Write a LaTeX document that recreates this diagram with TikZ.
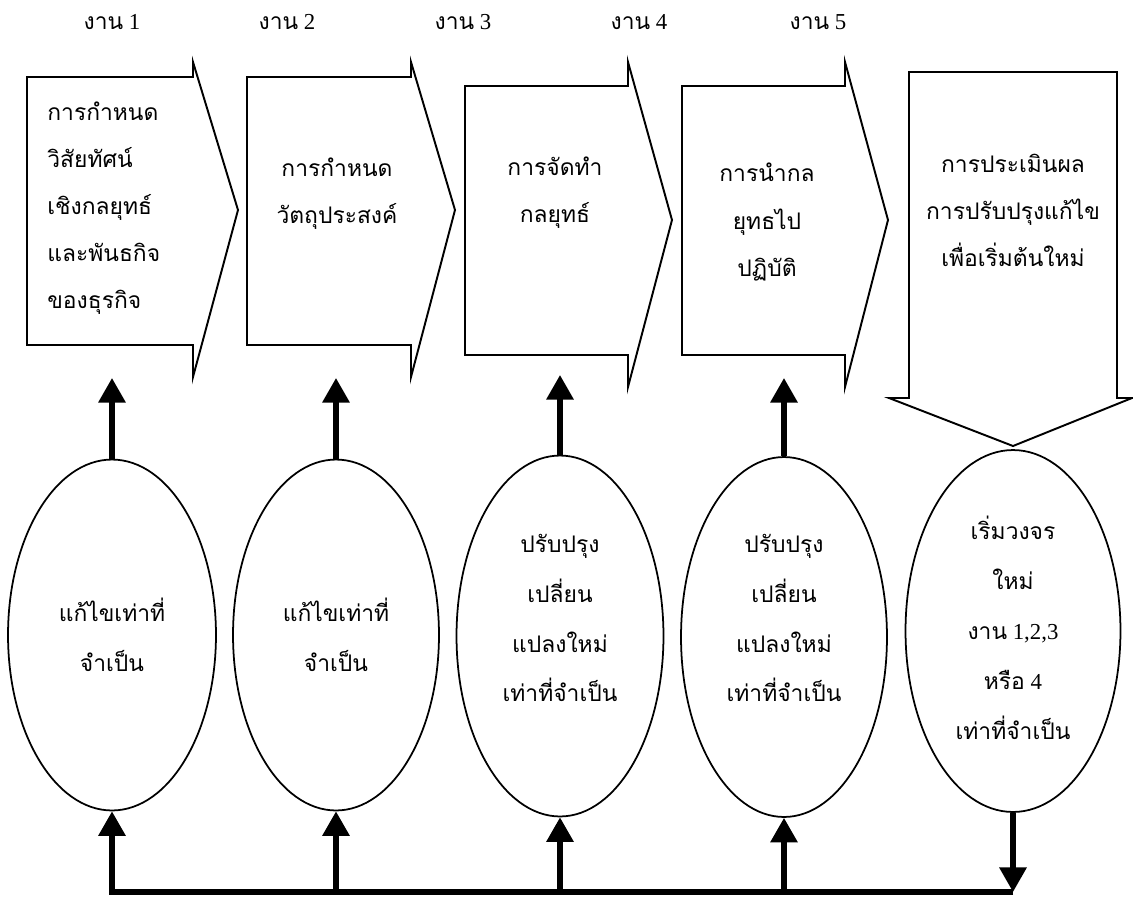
\documentclass[tikz,border=0pt]{standalone}
\usepackage{fontspec}
\setmainfont{Liberation Serif}
\newfontfamily\thaifont[Script=Thai,Scale=1.0]{Loma}
\newcommand\tht[1]{{\thaifont #1}}
\usetikzlibrary{arrows.meta,shapes.geometric}

\tikzset{
  panel/.style={draw, line width=1.1pt, line join=miter},
  oval/.style={draw, ellipse, line width=1pt, inner sep=0pt},
  boxtext/.style={font=\fontsize{13}{26.8}\selectfont, inner sep=0pt},
  ovaltext/.style={font=\fontsize{13}{28.4}\selectfont, inner sep=0pt, align=center},
  steplabel/.style={font=\fontsize{13}{15}\selectfont, inner sep=0pt},
  link/.style={line width=3pt, -{Triangle[width=15pt,length=14pt]}},
  rail/.style={line width=3pt},
}

\begin{document}
\begin{tikzpicture}[x=0.02cm,y=-0.02cm]
\path[use as bounding box] (0,0) rectangle (1133,897);

% stage labels
\node[steplabel] (s1) at (112,22) {\tht{งาน} 1};
\node[steplabel] (s2) at (287,22) {\tht{งาน} 2};
\node[steplabel] (s3) at (463,22) {\tht{งาน} 3};
\node[steplabel] (s4) at (639,22) {\tht{งาน} 4};
\node[steplabel] (s5) at (818,22) {\tht{งาน} 5};

% stage panels (notched arrows)
\draw[panel] (27,77) -- (193,77) -- (193,62) -- (238,210) -- (193,377) -- (193,345) -- (27,345) -- cycle;
\draw[panel] (247,77) -- (411,77) -- (411,62) -- (455,210) -- (411,377) -- (411,345) -- (247,345) -- cycle;
\draw[panel] (465,86) -- (628,86) -- (628,62) -- (672,220) -- (628,387) -- (628,355) -- (465,355) -- cycle;
\draw[panel] (682,86) -- (845,86) -- (845,62) -- (888,220) -- (845,387) -- (845,355) -- (682,355) -- cycle;
\draw[panel] (909,72) -- (1117,72) -- (1117,398) -- (1132,398) -- (1013,446) -- (889,398) -- (909,398) -- cycle;

\node[boxtext, anchor=west, align=left] (b1) at (47,208)
  {\tht{การกำหนด}\\\tht{วิสัยทัศน์}\\\tht{เชิงกลยุทธ์}\\\tht{และพันธกิจ}\\\tht{ของธุรกิจ}};
\node[boxtext, align=center] (b2) at (337,194) {\tht{การกำหนด}\\\tht{วัตถุประสงค์}};
\node[boxtext, align=center] (b3) at (555,193) {\tht{การจัดทำ}\\\tht{กลยุทธ์}};
\node[boxtext, align=center] (b4) at (767,222) {\tht{การนำกล}\\\tht{ยุทธไป}\\\tht{ปฏิบัติ}};
\node[boxtext, align=center] (b5) at (1013,210) {\tht{การประเมินผล}\\\tht{การปรับปรุงแก้ไข}\\\tht{เพื่อเริ่มต้นใหม่}};

% review ovals
\node[oval, minimum width=4.16cm, minimum height=7.02cm] (e1) at (112,635) {};
\node[oval, minimum width=4.12cm, minimum height=7.02cm] (e2) at (336,635) {};
\node[oval, minimum width=4.14cm, minimum height=7.22cm] (e3) at (560,636) {};
\node[oval, minimum width=4.12cm, minimum height=7.2cm] (e4) at (784,637) {};
\node[oval, minimum width=4.3cm, minimum height=7.24cm] (e5) at (1013,631) {};

\node[ovaltext] (t1) at (112,635) {\tht{แก้ไขเท่าที่}\\\tht{จำเป็น}};
\node[ovaltext] (t2) at (336,635) {\tht{แก้ไขเท่าที่}\\\tht{จำเป็น}};
\node[ovaltext] (t3) at (560,618) {\tht{ปรับปรุง}\\\tht{เปลี่ยน}\\\tht{แปลงใหม่}\\\tht{เท่าที่จำเป็น}};
\node[ovaltext] (t4) at (784,618) {\tht{ปรับปรุง}\\\tht{เปลี่ยน}\\\tht{แปลงใหม่}\\\tht{เท่าที่จำเป็น}};
\node[ovaltext] (t5) at (1013,628) {\tht{เริ่มวงจร}\\\tht{ใหม่}\\\tht{งาน} 1,2,3\\\tht{หรือ} 4\\\tht{เท่าที่จำเป็น}};

% arrows up to the panels
\coordinate (u1) at (112,378);
\coordinate (u2) at (336,378);
\coordinate (u3) at (560,375);
\coordinate (u4) at (784,378);
\draw[link] (e1.north) -- (u1);
\draw[link] (e2.north) -- (u2);
\draw[link] (e3.north) -- (u3);
\draw[link] (e4.north) -- (u4);

% feedback rail
\coordinate (railend) at (1013,892);
\draw[link] (e5.south) -- (railend);
\draw[rail, line join=miter] (railend) -- (e1.south |- railend) -- ([yshift=-14pt]e1.south);
\draw[link] (e1.south |- railend) -- (e1.south);
\draw[link] (e2.south |- railend) -- (e2.south);
\draw[link] (e3.south |- railend) -- (e3.south);
\draw[link] (e4.south |- railend) -- (e4.south);
\end{tikzpicture}
\end{document}
